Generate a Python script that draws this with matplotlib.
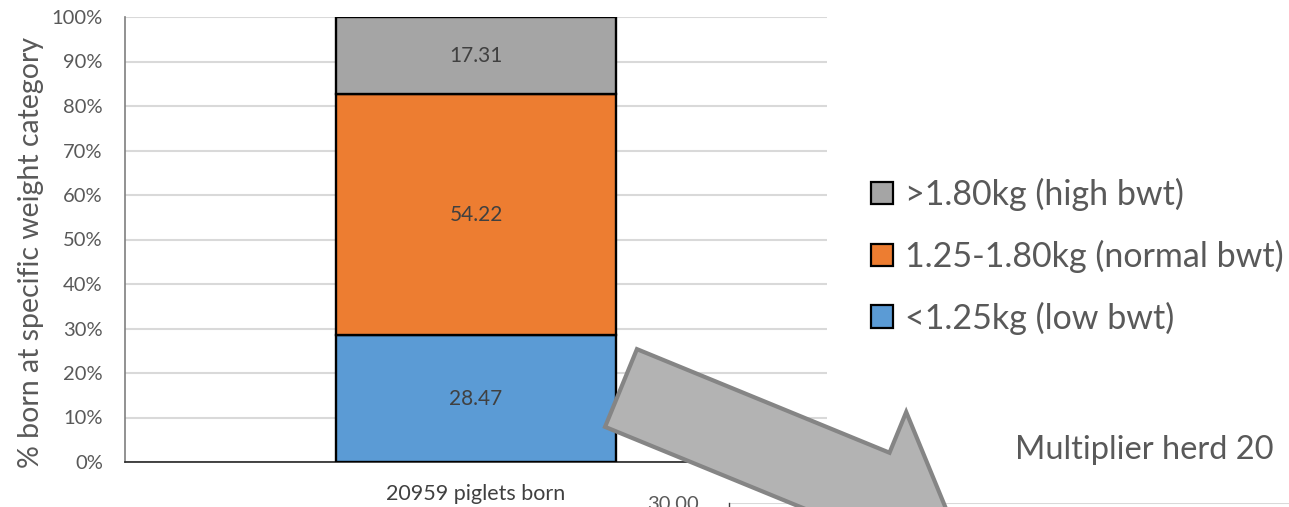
import matplotlib
matplotlib.use("Agg")
import matplotlib.pyplot as plt
from matplotlib.patches import FancyArrow
import numpy as np

plt.rcParams['font.family'] = ['Lato', 'DejaVu Sans']

# Data
category = ["20959 piglets born"]
series_names = ["<1.25kg (low bwt)", "1.25-1.80kg (normal bwt)", ">1.80kg (high bwt)"]
series_values = [28.47, 54.22, 17.31]
series_colors = ["#5B9BD5", "#ED7D31", "#A5A5A5"]
y_ticks = [0, 10, 20, 30, 40, 50, 60, 70, 80, 90, 100]
y_tick_labels = [f"{v}%" for v in y_ticks]
second_ticks = [0, 5, 10, 15, 20, 25, 30]
second_title = "Multiplier herd 20"

W, H = 1289, 507
fig = plt.figure(figsize=(W / 100, H / 100), dpi=100)

def px_box(left, top, right, bottom):
    return [left / W, 1 - bottom / H, (right - left) / W, (bottom - top) / H]

# Main stacked bar chart
ax = fig.add_axes(px_box(125, 17, 827, 462))
x = np.arange(len(category))
bottom = np.zeros(len(category))
bars = []
for name, val, col in zip(series_names, series_values, series_colors):
    b = ax.bar(x, [val], width=0.4, bottom=bottom, color=col,
               edgecolor="black", linewidth=1.7, label=name, zorder=3)
    for rect, v in zip(b, [val]):
        ax.text(rect.get_x() + rect.get_width() / 2, rect.get_y() + v / 2,
                f"{v:.2f}", ha="center", va="center", fontsize=15,
                color="#404040", zorder=4)
    bars.append(b)
    bottom = bottom + np.array([val])

ax.set_xlim(-0.5, 0.5)
ax.set_ylim(0, 100)
ax.set_yticks(y_ticks)
ax.set_yticklabels(y_tick_labels, fontsize=14.5, color="#595959")
ax.set_xticks(x)
ax.set_xticklabels(category, fontsize=15.5, color="#404040")
ax.tick_params(axis="both", length=0)
ax.tick_params(axis="y", pad=16)
ax.tick_params(axis="x", pad=16)
ax.yaxis.grid(True, color="#D9D9D9", linewidth=1.5, zorder=0)
ax.set_axisbelow(True)
for s in ["top", "right"]:
    ax.spines[s].set_visible(False)
ax.spines["left"].set_color("#7F7F7F")
ax.spines["left"].set_linewidth(1.2)
ax.spines["bottom"].set_color("#262626")
ax.spines["bottom"].set_linewidth(1.2)
ax.set_ylabel("% born at specific weight category", fontsize=20.5, color="#595959")
ax.yaxis.set_label_coords(-0.116, 0.472)

handles = [b[0] for b in bars][::-1]
labels = series_names[::-1]
leg = fig.legend(handles, labels, loc="upper left",
                 bbox_to_anchor=(871 / W, 1 - 178 / H), frameon=False,
                 fontsize=24.5, labelcolor="#595959", handlelength=0.64,
                 handleheight=0.64, handletextpad=0.35, labelspacing=0.84,
                 borderpad=0, borderaxespad=0)
for h in leg.legend_handles:
    h.set_linewidth(1.6)
    h.set_edgecolor("black")

# Partially visible second chart below
ax2 = fig.add_axes(px_box(729, 503, 1289, 503 + 300))
ax2.set_ylim(0, 30)
ax2.set_yticks(second_ticks)
ax2.set_yticklabels([f"{t:.2f}" for t in second_ticks], fontsize=14.5, color="#595959")
ax2.set_xticks([])
ax2.tick_params(axis="y", length=0, pad=22)
ax2.yaxis.grid(True, color="#D9D9D9", linewidth=1.5)
for s in ["top", "right", "bottom"]:
    ax2.spines[s].set_visible(False)
ax2.spines["left"].set_color("#404040")
ax2.spines["left"].set_linewidth(1.0)
fig.text(1015 / W, 1 - 450 / H, second_title, ha="left", va="center",
         fontsize=23.5, color="#595959")

# Overlay for the block arrow
ov = fig.add_axes([0, 0, 1, 1], zorder=10)
ov.set_xlim(0, W)
ov.set_ylim(H, 0)
ov.axis("off")
ov.patch.set_alpha(0)
tail = np.array([621.0, 388.0])
angle = np.deg2rad(22.3)
length = 358.0
ov.add_patch(FancyArrow(tail[0], tail[1], length * np.cos(angle), length * np.sin(angle),
                        width=84, head_width=172, head_length=85,
                        length_includes_head=True, facecolor="#B3B3B3",
                        edgecolor="#858585", linewidth=3.0, joinstyle="miter"))

fig.savefig("out.png", dpi=100)
